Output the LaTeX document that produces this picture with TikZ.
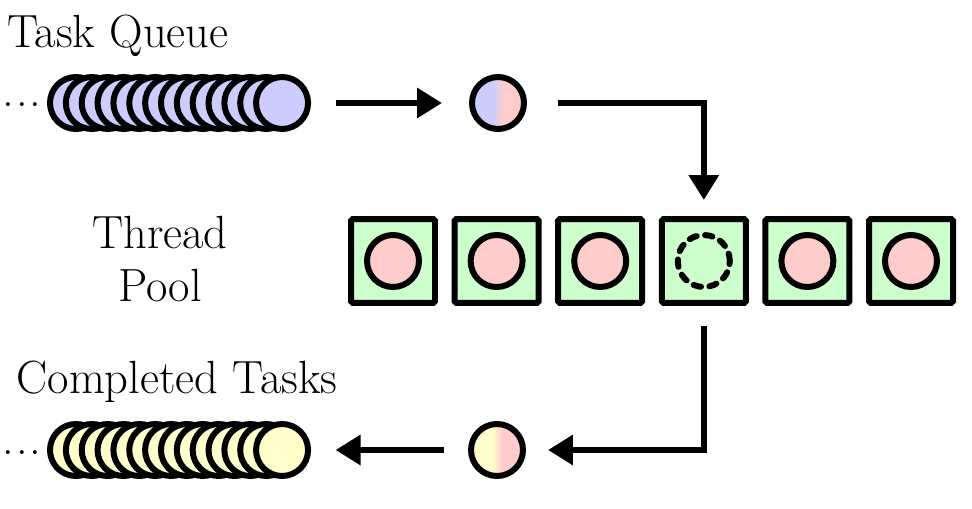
\documentclass[tikz,border=0pt]{standalone}
\usetikzlibrary{arrows.meta}
\definecolor{qblue}{HTML}{CCCCFF}
\definecolor{qpink}{HTML}{FFCCCC}
\definecolor{qgreen}{HTML}{CCFFCC}
\definecolor{qyellow}{HTML}{FFFFCC}
\pgfdeclarehorizontalshading{bluepink}{100bp}{color(0bp)=(qblue); color(45bp)=(qblue); color(55bp)=(qpink); color(100bp)=(qpink)}
\pgfdeclarehorizontalshading{yellowpink}{100bp}{color(0bp)=(qyellow); color(45bp)=(qyellow); color(55bp)=(qpink); color(100bp)=(qpink)}
\begin{document}
\begin{tikzpicture}[x=0.02cm,y=-0.02cm,
    >={Triangle[length=0.5cm,width=0.58cm]},
    task/.style={circle,draw,line width=0.12cm,minimum size=1.04cm,inner sep=0},
    worker/.style={draw,line width=0.12cm,fill=qgreen,minimum size=1.68cm,rounded corners=1pt},
    flow/.style={->,line width=0.13cm},
    heading/.style={font=\fontsize{26.5}{30}\selectfont,inner sep=0}]
    \useasboundingbox (0,0) rectangle (972,509);
    % coda dei task
    \node[heading,anchor=base west] (qtitle) at (7,48) {Task Queue};
    \node[heading,anchor=base] (qdots) at (22,107) {.\kern1pt.\kern1pt.};
    \foreach \i in {1,...,14}
        \node[task,fill=qblue] (q\i) at ({76+(\i-1)*15.85},103) {};
    \node[task,shade,shading=bluepink] (cur) at (498,103) {};
    % pool di thread
    \node[heading,align=center] (ptitle) at (160,259) {Thread\\Pool};
    \foreach \i in {1,...,6}
        \node[worker] (w\i) at ({393+(\i-1)*103.6},261) {};
    \foreach \i in {1,2,3,5,6}
        \node[task,fill=qpink] (t\i) at (w\i) {};
    \node[task,dash pattern=on 0.15cm off 0.17cm,line cap=round] (t4) at (w4) {};
    % task completati
    \node[heading,anchor=base] (dtitle) at (177,393) {Completed Tasks};
    \node[heading,anchor=base] (ddots) at (22,454) {.\kern1pt.\kern1pt.};
    \foreach \i in {1,...,14}
        \node[task,fill=qyellow] (d\i) at ({76+(\i-1)*15.85},450) {};
    \node[task,shade,shading=yellowpink] (res) at (497,450) {};
    % frecce
    \draw[flow,shorten <=0.49cm,shorten >=0.54cm] (q14) -- (cur);
    \draw[flow,shorten <=0.62cm,shorten >=0.32cm] (cur) -| (w4);
    \draw[flow,shorten <=0.4cm,shorten >=0.44cm] (w4) |- (res);
    \draw[flow,shorten <=0.48cm,shorten >=0.49cm] (res) -- (d14);
\end{tikzpicture}
\end{document}
